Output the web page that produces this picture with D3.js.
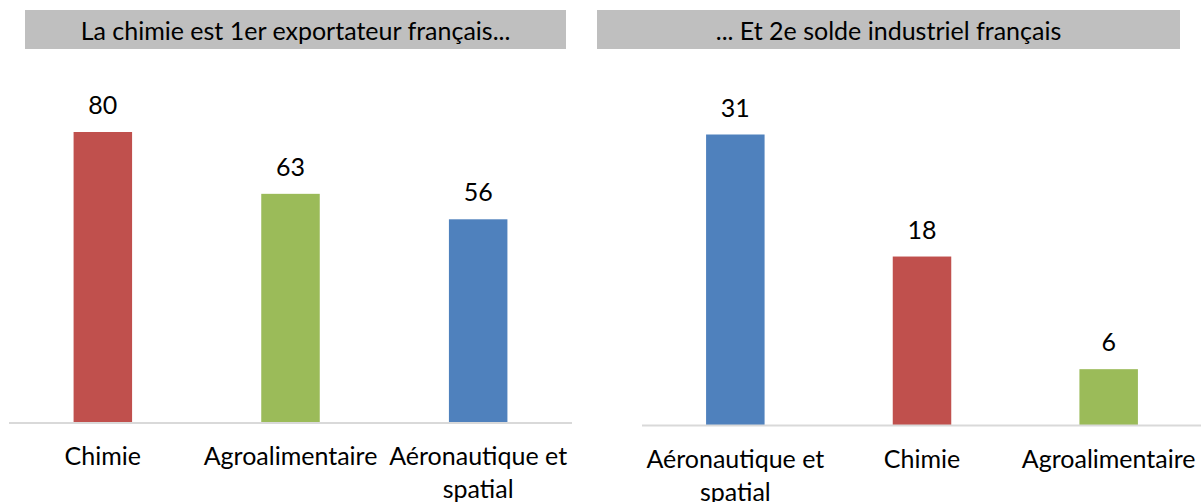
<!DOCTYPE html>
<html>
<head>
<meta charset="utf-8">
<script src="https://cdn.jsdelivr.net/npm/d3@7"></script>
<style>
  body { margin: 0; background: #fff; }
  text { font-family: Lato, "Open Sans", sans-serif; fill: #000; }
</style>
</head>
<body>
<script>
// data
var exportTitle = "La chimie est 1er exportateur français...";
var exportCategories = ["Chimie", "Agroalimentaire", "Aéronautique et spatial"];
var exportValues = [80, 63, 56];

var soldeTitle = "... Et 2e solde industriel français";
var soldeCategories = ["Aéronautique et spatial", "Chimie", "Agroalimentaire"];
var soldeValues = [31, 18, 6];

var colorOf = {
    "Chimie": "#c0504d",
    "Agroalimentaire": "#9bbb59",
    "Aéronautique et spatial": "#4f81bd"
};

var svg = d3.select("body").append("svg")
    .attr("width", 1201)
    .attr("height", 502);

// one panel = title box + bars + axis
function drawPanel(cfg, title, cats, vals) {
    var g = svg.append("g");

    g.append("rect")
        .attr("x", cfg.titleX0).attr("y", 10)
        .attr("width", cfg.titleX1 - cfg.titleX0).attr("height", 39)
        .attr("fill", "#bfbfbf");
    g.append("text")
        .attr("x", (cfg.titleX0 + cfg.titleX1) / 2).attr("y", 30)
        .attr("text-anchor", "middle").attr("dominant-baseline", "central")
        .style("font-size", "25px")
        .text(title);

    var x = d3.scaleBand().domain(cats).range([cfg.axisX0, cfg.axisX1]).paddingInner(0).paddingOuter(0);
    var y = d3.scaleLinear().domain([0, d3.max(vals)]).range([cfg.base, cfg.base - 291]);
    var bw = 58.5;
    var data = cats.map((c, i) => ({cat: c, val: vals[i]}));

    g.selectAll(".bar").data(data).enter()
        .append("rect")
        .attr("class", "bar")
        .attr("x", d => x(d.cat) + x.bandwidth() / 2 - bw / 2)
        .attr("y", d => y(d.val))
        .attr("width", bw)
        .attr("height", d => y(0) - y(d.val))
        .attr("fill", d => colorOf[d.cat]);

    g.selectAll(".val").data(data).enter()
        .append("text")
        .attr("class", "val")
        .attr("x", d => x(d.cat) + x.bandwidth() / 2)
        .attr("y", d => y(d.val) - 18)
        .attr("text-anchor", "middle")
        .style("font-size", "25px")
        .text(d => d.val);

    // axis line, no ticks
    var ax = g.append("g")
        .attr("transform", "translate(0," + cfg.base + ")")
        .call(d3.axisBottom(x).tickSize(0).tickPadding(0).tickFormat(""));
    ax.select(".domain").attr("stroke", "#d9d9d9").attr("stroke-width", 2)
        .attr("d", "M" + cfg.axisX0 + ",0H" + cfg.lineX1);

    // category labels, wrapped to band width
    g.selectAll(".cat").data(data).enter()
        .append("text")
        .attr("class", "cat")
        .attr("text-anchor", "middle")
        .style("font-size", "25px")
        .each(function(d) {
            var t = d3.select(this);
            var cx = x(d.cat) + x.bandwidth() / 2;
            var words = d.cat.split(" ");
            var lines = [];
            var line = [];
            words.forEach(w => {
                line.push(w);
                t.text(line.join(" "));
                if (this.getComputedTextLength() > x.bandwidth() + 10 && line.length > 1) {
                    line.pop();
                    lines.push(line.join(" "));
                    line = [w];
                }
            });
            lines.push(line.join(" "));
            t.text(null);
            lines.forEach((l, i) => {
                t.append("tspan").attr("x", cx).attr("y", cfg.base + 42 + i * 33).text(l);
            });
        });
}

drawPanel({titleX0: 25, titleX1: 566, axisX0: 9, axisX1: 572, lineX1: 572, base: 423},
    exportTitle, exportCategories, exportValues);
drawPanel({titleX0: 597, titleX1: 1180, axisX0: 642, axisX1: 1202, lineX1: 1201, base: 425.5},
    soldeTitle, soldeCategories, soldeValues);
</script>
</body>
</html>
